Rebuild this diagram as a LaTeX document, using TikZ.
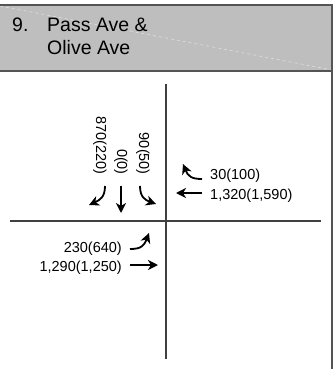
\documentclass[tikz,border=0pt]{standalone}
\usepackage{fontspec}
\setmainfont{Liberation Sans}
\usetikzlibrary{arrows.meta}
\definecolor{hdr}{HTML}{BEBEBE}
\definecolor{frm}{HTML}{555555}
\definecolor{road}{HTML}{404040}
\begin{document}
\begin{tikzpicture}[x=1pt,y=-1pt,
  title/.style={inner sep=0pt,anchor=base west,font=\fontsize{19.5}{23}\selectfont},
  vol/.style={inner sep=0pt,font=\fontsize{14.5}{17}\selectfont},
  mv/.style={line width=1.8pt,-{Stealth[length=10pt,width=10pt,inset=3pt]}},
  frame/.style={line width=1.5pt,frm},
  roadline/.style={line width=1.3pt,road}]
\useasboundingbox (0,0) rectangle (333,369);
% header
\fill[hdr] (0,5) rectangle (332,71);
\draw[white,opacity=0.5,line width=0.6pt,dashed] (0,6) -- (332,70);
\draw[frame] (0,5) -- (332,5);
\draw[frame] (0,71) -- (332,71);
\draw[frame] (332,4.25) -- (332,369);
\node[title] (num) at (12,32) {9.};
\node[title] (t1) at (47,32) {Pass Ave \&};
\node[title] (t2) at (47,55) {Olive Ave};
% roads
\draw[roadline] (166,84) -- (166,359);
\draw[roadline] (10,221) -- (321,221);
% southbound
\node[vol,rotate=-90,anchor=east] (sbr) at (100,175) {870(220)};
\node[vol,rotate=-90,anchor=east] (sbt) at (121,175) {0(0)};
\node[vol,rotate=-90,anchor=east] (sbl) at (143,175) {90(50)};
\draw[mv] (105,186) .. controls (105,197) and (100,200) .. (89,205);
\draw[mv] (121,186) -- (121,213);
\draw[mv] (140,186) .. controls (140,197) and (145,200) .. (156,204);
% westbound
\node[vol,anchor=base west] (wbr) at (210,179.5) {30(100)};
\node[vol,anchor=base west] (wbt) at (210,199) {1,320(1,590)};
\draw[mv] (202,179) .. controls (191,179) and (188,176) .. (183,164);
\draw[mv] (202,193) -- (176,193);
% eastbound
\node[vol,anchor=base east] (ebl) at (122,252.5) {230(640)};
\node[vol,anchor=base east] (ebt) at (122,271) {1,290(1,250)};
\draw[mv] (130,249) .. controls (141,249) and (144,246) .. (149,233);
\draw[mv] (130,265) -- (158,265);
\end{tikzpicture}
\end{document}
